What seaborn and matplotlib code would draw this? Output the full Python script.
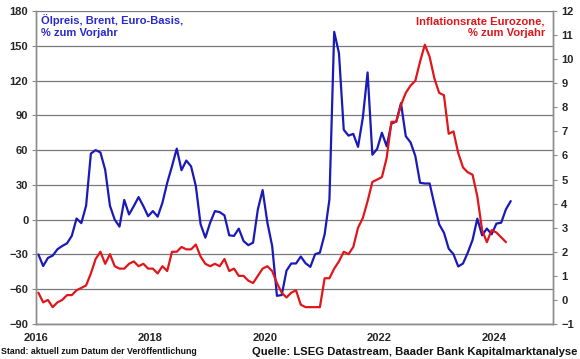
import numpy as np
import pandas as pd
import seaborn as sns
import matplotlib
matplotlib.use("Agg")
import matplotlib.pyplot as plt

# ---- data (monthly, starting Jan 2016) ----
oil_yoy = [-30, -40, -33, -31, -25.5, -22.7, -20.4, -14, 1, -3, 12, 57,
           60, 58, 43, 12, 0, -6, 17, 4.5, 11.7, 19.5, 11.7, 3,
           7.4, 2.6, 14.6, 31.8, 46, 61.3, 42.7, 51, 46, 29, -4, -15.5,
           -2.6, 7.4, 6.5, 3.7, -13.5, -14, -7.7, -18.4, -22, -19.8, 8.9, 25.5,
           -2.6, -22.7, -65.7, -65, -44, -37.8, -37.8, -31.8, -37.6, -40.7, -29.8, -28.4,
           -12.6, 17.5, 162, 143.6, 77.6, 72.5, 74, 62.8, 88, 127, 56, 61,
           75, 63.3, 83, 84.5, 100.5, 72, 66.7, 55, 31.8, 31.2, 31.2, 13.2,
           -4, -11.2, -25, -29.8, -40.4, -37.8, -28.4, -17.5, 0.9, -13.5, -7.7, -12.6,
           -3.4, -2.6, 9, 16]
infl_yoy = [0.3, -0.1, 0.0, -0.3, -0.1, 0.0, 0.2, 0.2, 0.4, 0.5, 0.6, 1.1,
            1.7, 2.0, 1.5, 1.9, 1.4, 1.3, 1.3, 1.5, 1.6, 1.4, 1.5, 1.3,
            1.3, 1.1, 1.4, 1.2, 2.0, 2.0, 2.2, 2.1, 2.1, 2.3, 1.8, 1.5,
            1.4, 1.5, 1.4, 1.7, 1.2, 1.3, 1.0, 1.0, 0.8, 0.7, 1.0, 1.3,
            1.4, 1.2, 0.7, 0.3, 0.1, 0.3, 0.4, -0.2, -0.3, -0.3, -0.3, -0.3,
            0.9, 0.9, 1.3, 1.6, 2.0, 1.9, 2.2, 3.0, 3.4, 4.1, 4.9, 5.0,
            5.1, 5.9, 7.4, 7.4, 8.1, 8.6, 8.9, 9.1, 9.9, 10.6, 10.1, 9.2,
            8.6, 8.5, 6.9, 7.0, 6.1, 5.5, 5.3, 5.2, 4.3, 2.9, 2.4, 2.9,
            2.8, 2.6, 2.4]
start_year = 2016
x_ticks = [2016, 2018, 2020, 2022, 2024]
x_labels = ["2016", "2018", "2020", "2022", "2024"]
left_ticks = list(range(-90, 181, 30))
right_ticks = list(range(-1, 13))

oil_df = pd.DataFrame({"t": start_year + (np.arange(len(oil_yoy)) + 0.5) / 12,
                       "v": oil_yoy})
inf_df = pd.DataFrame({"t": start_year + (np.arange(len(infl_yoy)) + 0.5) / 12,
                       "v": infl_yoy})

sns.set_style("white")
plt.rcParams["font.family"] = ["Liberation Sans", "DejaVu Sans"]
plt.rcParams["font.weight"] = "bold"

BLUE = "#1a1ab8"
RED = "#e0161b"
GRID = "#7a7a7a"
AX = "#8c8c8c"

W, H = 580, 359
fig = plt.figure(figsize=(W / 100, H / 100), dpi=100)
ax = fig.add_axes([36 / W, 1 - 324 / H, (553 - 36) / W, (324 - 11) / H])
ax2 = ax.twinx()

ax.set_ylim(-90, 180)
ax.set_yticks(left_ticks)
ax.yaxis.grid(True, color=GRID, lw=0.9)
ax.set_axisbelow(True)

ax2.set_ylim(-1, 12)
ax2.set_yticks(right_ticks)

sns.lineplot(data=oil_df, x="t", y="v", ax=ax, color=BLUE, lw=1.6, zorder=3)
sns.lineplot(data=inf_df, x="t", y="v", ax=ax2, color=RED, lw=1.6, zorder=3)

ax.set_xlim(2016, 2025.03)
ax.set_xticks(x_ticks)
ax.set_xticklabels(x_labels)
for a in (ax, ax2):
    a.set_xlabel("")
    a.set_ylabel("")
    a.spines["top"].set_visible(False)
    for s in ("left", "right", "bottom"):
        a.spines[s].set_color(AX)
        a.spines[s].set_linewidth(1.0)

ax.tick_params(axis="y", direction="out", length=3, width=0.8, color=AX,
               pad=2.5, labelsize=8)
ax.tick_params(axis="x", direction="out", length=3, width=0.8, color=AX,
               pad=3.5, labelsize=8)
ax2.tick_params(axis="y", direction="out", length=3, width=0.8, color=AX,
                pad=3, labelsize=8)
for lab in ax.get_yticklabels() + ax.get_xticklabels() + ax2.get_yticklabels():
    lab.set_fontweight("bold")

# series labels
ax.text(5 / 517, 1 - 3 / 313, "Ölpreis, Brent, Euro-Basis,\n% zum Vorjahr",
        transform=ax.transAxes, ha="left", va="top", color="#2a2acc",
        fontsize=8, fontweight="bold", linespacing=1.3)
ax.text(1 - 8 / 517, 1 - 5 / 313, "Inflationsrate Eurozone,\n% zum Vorjahr",
        transform=ax.transAxes, ha="right", va="top", color=RED,
        fontsize=8.1, fontweight="bold", linespacing=1.3, multialignment="right")

fig.text(1 / W, 1 - 352 / H, "Stand: aktuell zum Datum der Veröffentlichung",
         ha="left", va="center", fontsize=6.3, fontweight="bold", color="#111111")
fig.text(577 / W, 1 - 352 / H,
         "Quelle: LSEG Datastream, Baader Bank Kapitalmarktanalyse",
         ha="right", va="center", fontsize=8.1, fontweight="bold", color="#111111")

fig.savefig("out.png", dpi=100)
